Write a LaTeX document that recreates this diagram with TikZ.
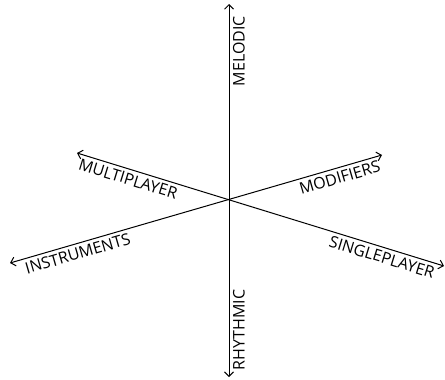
\documentclass[tikz,border=0pt]{standalone}
\usepackage{fontspec}
\setmainfont{Open Sans}
\usetikzlibrary{arrows.meta}
\tikzset{
  axis/.style={draw=black, line width=1pt, {Straight Barb[length=4.5pt,width=9pt]}-{Straight Barb[length=4.5pt,width=9pt]}},
  axislabel/.style={sloped, below, inner sep=3.5pt, font=\fontsize{16}{18}\selectfont},
}
\begin{document}
\begin{tikzpicture}[x=1pt,y=-1pt]
\useasboundingbox (0,0) rectangle (445,380);
\coordinate (rhy) at (229,377);
\coordinate (mel) at (229,4);
\coordinate (mul) at (77,153);
\coordinate (sin) at (444,266);
\coordinate (ins) at (10,263);
\coordinate (mod) at (382,155);
\draw[axis] (rhy) -- node[axislabel, pos=0.126] (rhylab) {RHYTHMIC} node[axislabel, pos=0.874] (mellab) {MELODIC} (mel);
\draw[axis] (mul) -- node[axislabel, pos=0.147] (mullab) {MULTIPLAYER} node[axislabel, pos=0.839] (sinlab) {SINGLEPLAYER} (sin);
\draw[axis] (ins) -- node[axislabel, pos=0.175] (inslab) {INSTRUMENTS} node[axislabel, pos=0.879] (modlab) {MODIFIERS} (mod);
\end{tikzpicture}
\end{document}
